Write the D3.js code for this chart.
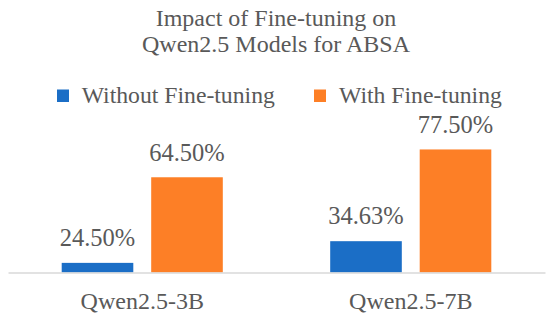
<!DOCTYPE html>
<html>
<head>
<meta charset="utf-8">
<script src="https://cdn.jsdelivr.net/npm/d3@7"></script>
<style>
  html, body { margin: 0; padding: 0; background: #ffffff; }
  svg { display: block; }
</style>
</head>
<body>
<svg id="chart" width="550" height="320"></svg>
<script>
// ---- data ----
const categories = ["Qwen2.5-3B", "Qwen2.5-7B"];
const seriesNames = ["Without Fine-tuning", "With Fine-tuning"];
const withoutFT = [24.50, 34.63];
const withFT = [64.50, 77.50];
const titleLines = ["Impact of Fine-tuning on", "Qwen2.5 Models for ABSA"];
const yDomain = [20, 90];

const colors = ["#1b6ec6", "#fd7f26"];
const textColor = "#595959";
const FONT = "'Liberation Serif', 'Times New Roman', Times, serif";

const svg = d3.select("#chart");
const plot = { left: 8, right: 545, top: 122.7, bottom: 272.5 };

function addText(sel, x, y, str, size, anchor) {
  return sel.append("text")
    .attr("x", x).attr("y", y)
    .attr("text-anchor", anchor || "middle")
    .attr("font-family", FONT)
    .attr("font-size", size)
    .attr("fill", textColor)
    .text(str);
}

// ---- title ----
addText(svg, 276, 26, titleLines[0], 24);
addText(svg, 276, 52, titleLines[1], 24);

// ---- scales ----
const x0 = d3.scaleBand().domain(categories).range([plot.left, plot.right]).paddingInner(0).paddingOuter(0);
const x1 = d3.scaleBand().domain(seriesNames).range([0, x0.bandwidth()]).paddingInner(0.2).paddingOuter(0.6);
const y = d3.scaleLinear().domain(yDomain).range([plot.bottom, plot.top]);

const rows = categories.map((c, i) => ({
  cat: c,
  vals: [
    { s: seriesNames[0], v: withoutFT[i], c: colors[0] },
    { s: seriesNames[1], v: withFT[i], c: colors[1] }
  ]
}));

// ---- bars ----
const groups = svg.append("g").selectAll("g").data(rows).join("g")
  .attr("transform", d => `translate(${x0(d.cat)},0)`);

groups.selectAll("rect").data(d => d.vals).join("rect")
  .attr("x", d => x1(d.s))
  .attr("width", x1.bandwidth())
  .attr("y", d => y(d.v))
  .attr("height", d => y(yDomain[0]) - y(d.v))
  .attr("fill", d => d.c);

// data labels
groups.each(function(d) {
  const g = d3.select(this);
  d.vals.forEach(v => {
    addText(g, x1(v.s) + x1.bandwidth() / 2, y(v.v) - 16.7, v.v.toFixed(2) + "%", 24.5);
  });
});

// ---- baseline axis ----
const xAxis = d3.axisBottom(x0).tickSize(0).tickFormat("");
const axisG = svg.append("g").attr("transform", `translate(0,${plot.bottom})`).call(xAxis);
axisG.select(".domain").attr("stroke", "#d9d9d9").attr("stroke-width", 1.5);

// category labels
categories.forEach(c => {
  addText(svg, x0(c) + x0.bandwidth() / 2, 308.5, c, 24);
});

// ---- legend ----
const legendItems = [
  { name: seriesNames[0], color: colors[0], sx: 57, tx: 81.7 },
  { name: seriesNames[1], color: colors[1], sx: 314, tx: 339 }
];
legendItems.forEach(it => {
  svg.append("rect").attr("x", it.sx).attr("y", 89.5).attr("width", 12).attr("height", 12.5).attr("fill", it.color);
  addText(svg, it.tx, 103.3, it.name, 23.7, "start");
});
</script>
</body>
</html>
